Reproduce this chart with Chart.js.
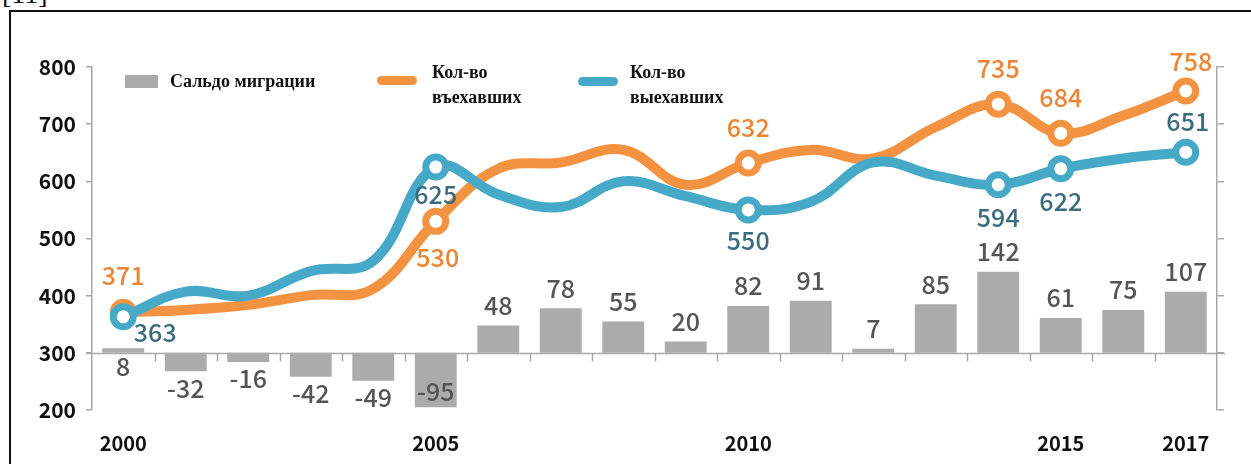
<!DOCTYPE html>
<html>
<head>
<meta charset="utf-8">
<script src="https://cdn.jsdelivr.net/npm/chart.js@4"></script>
<style>
  html, body { margin: 0; padding: 0; background: #fff; }
  body { width: 1251px; height: 464px; position: relative; overflow: hidden; }
  #ref { position: absolute; left: 2px; top: -22px; font: 28px "Liberation Serif", serif; color: #111; }
  #frame { position: absolute; left: 9px; top: 10px; width: 1260px; height: 480px; border: 2px solid #111; }
  #wrap { position: absolute; left: 0; top: 0; width: 1251px; height: 464px; }
  .leg { position: absolute; font-family: "Liberation Serif", serif; font-weight: bold; font-size: 18px; color: #111; line-height: 25px; }
  .swatch { position: absolute; }
</style>
</head>
<body>
<div id="ref">[11]</div>
<div id="frame"></div>
<div id="wrap"><canvas id="migrationChart" width="1251" height="464"></canvas></div>

<div class="swatch" style="left:125px;top:75px;width:33px;height:13px;background:#ababab"></div>
<div class="leg" style="left:170px;top:69px">Сальдо миграции</div>
<div class="swatch" style="left:377px;top:76px;width:40px;height:9px;border-radius:5px;background:#f39240"></div>
<div class="leg" style="left:432px;top:60px">Кол-во<br>въехавших</div>
<div class="swatch" style="left:578px;top:77px;width:40px;height:9px;border-radius:5px;background:#46a9c8"></div>
<div class="leg" style="left:630px;top:60px">Кол-во<br>выехавших</div>

<script>
const years = ["2000", "2001", "2002", "2003", "2004", "2005", "2006", "2007", "2008",
  "2009", "2010", "2011", "2012", "2013", "2014", "2015", "2016", "2017"];
const shownYears = ["2000", "2005", "2010", "2015", "2017"];
const arrivals = [371, 375, 384, 401, 412, 530, 622, 633, 655, 594, 632, 655, 640, 695, 735, 684, 715, 758];
const departures = [363, 407, 400, 443, 461, 625, 577, 555, 600, 574, 550, 564, 633, 610, 594, 622, 640, 651];
const balance = [8, -32, -16, -42, -49, -95, 48, 78, 55, 20, 82, 91, 7, 85, 142, 61, 75, 107];
const markedYears = ["2000", "2005", "2010", "2014", "2015", "2017"];
const baseLevel = 300;

const ORANGE = "#f39240";
const BLUE = "#46a9c8";
const GREY = "#ababab";
const AXIS = "#a8a8a8";
const NUM_FONT = '"Noto Sans CJK KR", "Noto Sans", sans-serif';

// label offsets in px relative to the marker
const arrivalOffsets = { 0: [0, -37], 5: [2, 36], 10: [0, -36], 14: [0, -36], 15: [0, -36], 17: [5, -30] };
const departureOffsets = { 0: [32, 16], 5: [0, 27], 10: [0, 31], 14: [0, 33], 15: [0, 33], 17: [2, -31] };

const markerRadius = years.map((y) => (markedYears.includes(y) ? 10 : 0));

const baseLine = {
  id: "baseLine",
  beforeDatasetsDraw(chart) {
    const { ctx, chartArea, scales } = chart;
    const y = Math.round(scales.y.getPixelForValue(baseLevel)) + 0.5;
    const step = (chartArea.right - chartArea.left) / years.length;
    ctx.save();
    ctx.strokeStyle = AXIS;
    ctx.lineWidth = 1.5;
    ctx.beginPath();
    ctx.moveTo(chartArea.left - 6, y);
    ctx.lineTo(chartArea.right + 8, y);
    for (let i = 1; i < years.length; i++) {
      const x = Math.round(chartArea.left + i * step) + 0.5;
      ctx.moveTo(x, y);
      ctx.lineTo(x, y + 8);
    }
    ctx.stroke();
    ctx.restore();
  },
};

const valueLabels = {
  id: "valueLabels",
  afterDatasetsDraw(chart) {
    const ctx = chart.ctx;
    const yScale = chart.scales.y;
    ctx.save();
    ctx.font = "500 25px " + NUM_FONT;
    ctx.textAlign = "center";
    ctx.textBaseline = "middle";

    const base = yScale.getPixelForValue(baseLevel);
    const bars = chart.getDatasetMeta(2).data;
    bars.forEach((bar, i) => {
      const v = balance[i];
      const end = yScale.getPixelForValue(baseLevel + v);
      let y;
      if (i === 0) y = base + 14;
      else if (v < -80) y = end - 16;
      else if (v < 0) y = end + 17;
      else y = end - 20;
      ctx.fillStyle = "#555";
      ctx.fillText(String(v), bar.x, y);
    });

    const drawSeries = (meta, values, offsets, color) => {
      Object.keys(offsets).forEach((k) => {
        const pt = meta.data[k];
        const [dx, dy] = offsets[k];
        ctx.fillStyle = color;
        ctx.fillText(String(values[k]), pt.x + dx, pt.y + dy);
      });
    };
    drawSeries(chart.getDatasetMeta(1), arrivals, arrivalOffsets, "#ec8434");
    drawSeries(chart.getDatasetMeta(0), departures, departureOffsets, "#3b6c7c");
    ctx.restore();
  },
};

new Chart(document.getElementById("migrationChart"), {
  type: "bar",
  data: {
    labels: years,
    datasets: [
      {
        type: "line",
        label: "Кол-во выехавших",
        data: departures,
        borderColor: BLUE,
        borderWidth: 10,
        tension: 0.4,
        pointRadius: markerRadius,
        pointHoverRadius: markerRadius,
        pointBackgroundColor: "#fff",
        pointBorderColor: BLUE,
        pointBorderWidth: 7,
        order: 1,
      },
      {
        type: "line",
        label: "Кол-во въехавших",
        data: arrivals,
        borderColor: ORANGE,
        borderWidth: 10,
        tension: 0.4,
        pointRadius: markerRadius,
        pointHoverRadius: markerRadius,
        pointBackgroundColor: "#fff",
        pointBorderColor: ORANGE,
        pointBorderWidth: 7,
        order: 2,
      },
      {
        type: "bar",
        label: "Сальдо миграции",
        data: balance.map((v) => [baseLevel, baseLevel + v]),
        backgroundColor: GREY,
        borderSkipped: false,
        categoryPercentage: 1,
        barPercentage: 0.67,
        order: 3,
      },
    ],
  },
  options: {
    responsive: false,
    animation: false,
    events: [],
    layout: { padding: { top: 67, left: 0, right: 0, bottom: 0 } },
    plugins: {
      legend: { display: false },
      tooltip: { enabled: false },
    },
    scales: {
      x: {
        offset: true,
        grid: { display: false },
        border: { display: false },
        ticks: {
          autoSkip: false,
          maxRotation: 0,
          padding: 13,
          color: "#111",
          font: { family: NUM_FONT, size: 20, weight: "bold" },
          callback: function (value) {
            const lbl = this.getLabelForValue(value);
            return shownYears.includes(lbl) ? lbl : "";
          },
        },
        afterFit: (scale) => { scale.height = 54; },
      },
      y: {
        position: "left",
        min: 200,
        max: 800,
        ticks: {
          stepSize: 100,
          padding: 10,
          color: "#111",
          font: { family: NUM_FONT, size: 21, weight: "bold" },
        },
        grid: { drawOnChartArea: false, drawTicks: true, tickLength: 6, color: AXIS, lineWidth: 1.5 },
        border: { color: AXIS, width: 1.5 },
        afterFit: (scale) => { scale.width = 92; },
      },
      y2: {
        position: "right",
        min: 200,
        max: 800,
        ticks: { stepSize: 100, display: false },
        grid: { drawOnChartArea: false, drawTicks: true, tickLength: 7, color: AXIS, lineWidth: 1.5 },
        border: { color: AXIS, width: 1.5 },
        afterFit: (scale) => { scale.width = 34; },
      },
    },
  },
  plugins: [baseLine, valueLabels],
});
</script>
</body>
</html>
